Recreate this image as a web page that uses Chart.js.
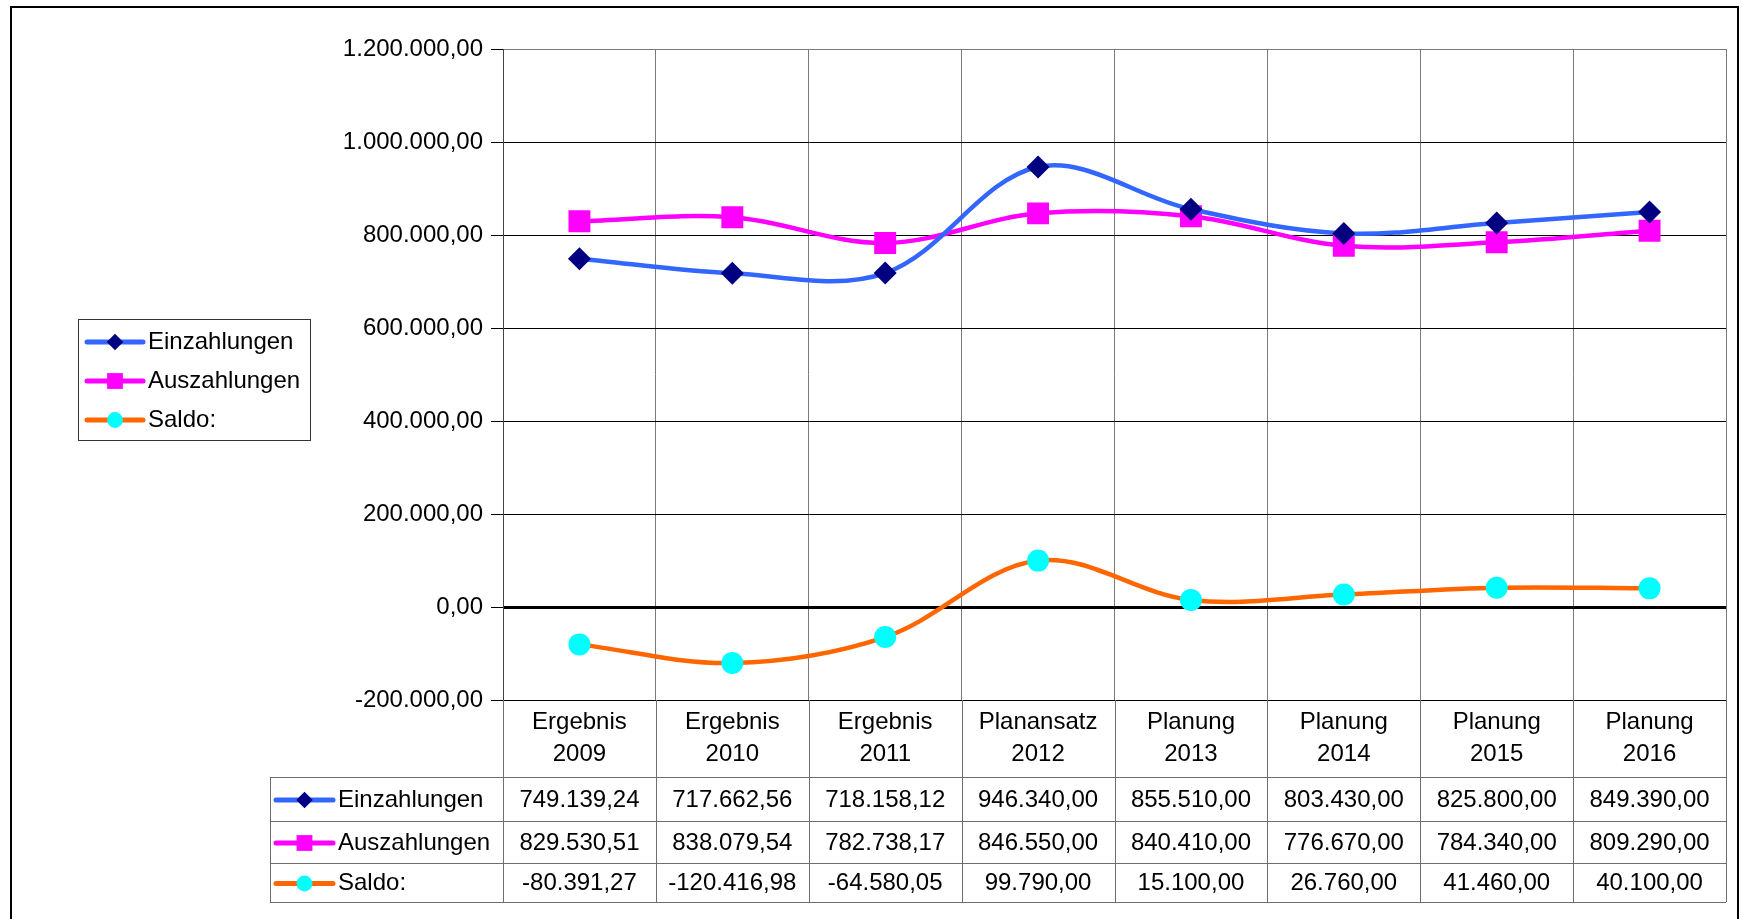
<!DOCTYPE html>
<html lang="de">
<head>
<meta charset="utf-8">
<title>Einzahlungen / Auszahlungen / Saldo</title>
<script src="https://cdn.jsdelivr.net/npm/chart.js@4.4.1/dist/chart.umd.min.js"></script>
<style>
  html, body { margin: 0; padding: 0; background: #fff; }
  #wrap { width: 1742px; height: 919px; }
</style>
</head>
<body>
<div id="wrap"><canvas id="chart" width="1742" height="919"></canvas></div>
<script>
const categories = [
  ["Ergebnis", "2009"], ["Ergebnis", "2010"], ["Ergebnis", "2011"], ["Planansatz", "2012"],
  ["Planung", "2013"], ["Planung", "2014"], ["Planung", "2015"], ["Planung", "2016"],
];
const seriesNames = ["Einzahlungen", "Auszahlungen", "Saldo:"];
const einzahlungen = [749139.24, 717662.56, 718158.12, 946340.0, 855510.0, 803430.0, 825800.0, 849390.0];
const auszahlungen = [829530.51, 838079.54, 782738.17, 846550.0, 840410.0, 776670.0, 784340.0, 809290.0];
const saldo = [-80391.27, -120416.98, -64580.05, 99790.0, 15100.0, 26760.0, 41460.0, 40100.0];
const yMin = -200000;
const yMax = 1200000;
const yStep = 200000;

const FONT = '"Liberation Sans", Arial, sans-serif';
const styles = [
  { line: "#3366ff", marker: "#000080", shape: "rectRot", radius: 11.5 },
  { line: "#ff00ff", marker: "#ff00ff", shape: "rect", radius: 15.5 },
  { line: "#ff6600", marker: "#00ffff", shape: "circle", radius: 11 },
];

function fmtDE(v) {
  const neg = v < 0;
  const [int, dec] = Math.abs(v).toFixed(2).split(".");
  const grouped = int.replace(/\B(?=(\d{3})+(?!\d))/g, ".");
  return (neg ? "-" : "") + grouped + "," + dec;
}

// marker + line sample used by legend and table
function drawSample(ctx, s, x0, x1, y, scale) {
  ctx.save();
  ctx.strokeStyle = s.line;
  ctx.lineWidth = 5;
  ctx.lineCap = "round";
  ctx.beginPath();
  ctx.moveTo(x0, y);
  ctx.lineTo(x1, y);
  ctx.stroke();
  const cx = (x0 + x1) / 2;
  ctx.fillStyle = s.marker;
  ctx.beginPath();
  if (s.shape === "rectRot") {
    const r = s.radius * scale;
    ctx.moveTo(cx, y - r);
    ctx.lineTo(cx + r, y);
    ctx.lineTo(cx, y + r);
    ctx.lineTo(cx - r, y);
    ctx.closePath();
  } else if (s.shape === "rect") {
    const h = s.radius * Math.SQRT1_2 * scale;
    ctx.rect(cx - h, y - h, 2 * h, 2 * h);
  } else {
    ctx.arc(cx, y, s.radius * scale, 0, Math.PI * 2);
  }
  ctx.fill();
  ctx.restore();
}

const tablePlugin = {
  id: "dataTable",
  afterDraw(chart) {
    const { ctx, chartArea, scales } = chart;
    const xs = scales.x;
    const colW = (chartArea.right - chartArea.left) / categories.length;
    const tableLeft = 270;
    const headerBottom = 777;
    const rowLines = [777, 821, 863, 902];
    const bottom = rowLines[rowLines.length - 1];
    const series = [einzahlungen, auszahlungen, saldo];

    ctx.save();
    ctx.strokeStyle = "#6e6e6e";
    ctx.lineWidth = 1;
    ctx.beginPath();
    for (let i = 0; i <= categories.length; i++) {
      const x = Math.round(chartArea.left + i * colW) + 0.5;
      ctx.moveTo(x, chartArea.bottom);
      ctx.lineTo(x, bottom);
    }
    for (const y of rowLines) {
      ctx.moveTo(tableLeft, y + 0.5);
      ctx.lineTo(chartArea.right, y + 0.5);
    }
    ctx.moveTo(tableLeft + 0.5, headerBottom);
    ctx.lineTo(tableLeft + 0.5, bottom);
    ctx.stroke();

    ctx.fillStyle = "#000";
    ctx.font = "24px " + FONT;
    ctx.textAlign = "center";
    ctx.textBaseline = "middle";
    categories.forEach((c, i) => {
      const cx = xs.getPixelForValue(i);
      ctx.fillText(c[0], cx, 722);
      ctx.fillText(c[1], cx, 754);
      series.forEach((vals, r) => {
        const cy = (rowLines[r] + rowLines[r + 1]) / 2 + 1;
        ctx.fillText(fmtDE(vals[i]), cx, cy);
      });
    });

    ctx.textAlign = "left";
    seriesNames.forEach((name, r) => {
      const cy = (rowLines[r] + rowLines[r + 1]) / 2 + 1;
      drawSample(ctx, styles[r], 276, 333, cy, 0.72);
      ctx.fillStyle = "#000";
      ctx.fillText(name, 338, cy);
    });

    // legend
    ctx.strokeStyle = "#333";
    ctx.strokeRect(78.5, 319.5, 232, 121);
    const legY = [342, 381, 420];
    seriesNames.forEach((name, r) => {
      drawSample(ctx, styles[r], 87, 143, legY[r], 0.72);
      ctx.fillStyle = "#000";
      ctx.fillText(name, 148, legY[r]);
    });

    // outer chart border
    ctx.strokeStyle = "#000";
    ctx.lineWidth = 2;
    ctx.strokeRect(11, 7, 1727, 930);
    ctx.restore();
  },
};

const ctx = document.getElementById("chart").getContext("2d");
new Chart(ctx, {
  type: "line",
  data: {
    labels: categories.map((c) => c.join(" ")),
    datasets: [einzahlungen, auszahlungen, saldo].map((vals, i) => ({
      label: seriesNames[i],
      data: vals,
      borderColor: styles[i].line,
      backgroundColor: styles[i].marker,
      borderWidth: 4.5,
      tension: 0.35,
      pointStyle: styles[i].shape,
      pointRadius: styles[i].radius,
      pointHoverRadius: styles[i].radius,
      pointBackgroundColor: styles[i].marker,
      pointBorderColor: styles[i].marker,
      pointBorderWidth: 0,
      fill: false,
    })),
  },
  options: {
    responsive: false,
    animation: false,
    events: [],
    layout: { padding: { top: 49, right: 16, left: 0, bottom: 0 } },
    plugins: { legend: { display: false }, tooltip: { enabled: false } },
    scales: {
      x: {
        type: "category",
        offset: true,
        grid: { offset: true, color: "#7a7a7a", lineWidth: 1, drawTicks: false },
        border: { display: true, color: "#000" },
        ticks: { display: false },
        afterFit(scale) { scale.height = 219; },
      },
      y: {
        min: yMin,
        max: yMax,
        ticks: {
          stepSize: yStep,
          color: "#000",
          font: { family: FONT, size: 24 },
          padding: 8,
          callback: (v) => fmtDE(v),
        },
        grid: {
          color: (c) => (c.tick && c.tick.value === yMax ? "#7a7a7a" : "#000"),
          lineWidth: (c) => (c.tick && c.tick.value === 0 ? 3 : 1),
          tickColor: "#000",
          tickWidth: 1,
          tickLength: 12,
        },
        border: { display: true, color: "#444", width: 1 },
        afterFit(scale) { scale.width = 503; },
      },
    },
  },
  plugins: [tablePlugin],
});
</script>
</body>
</html>
